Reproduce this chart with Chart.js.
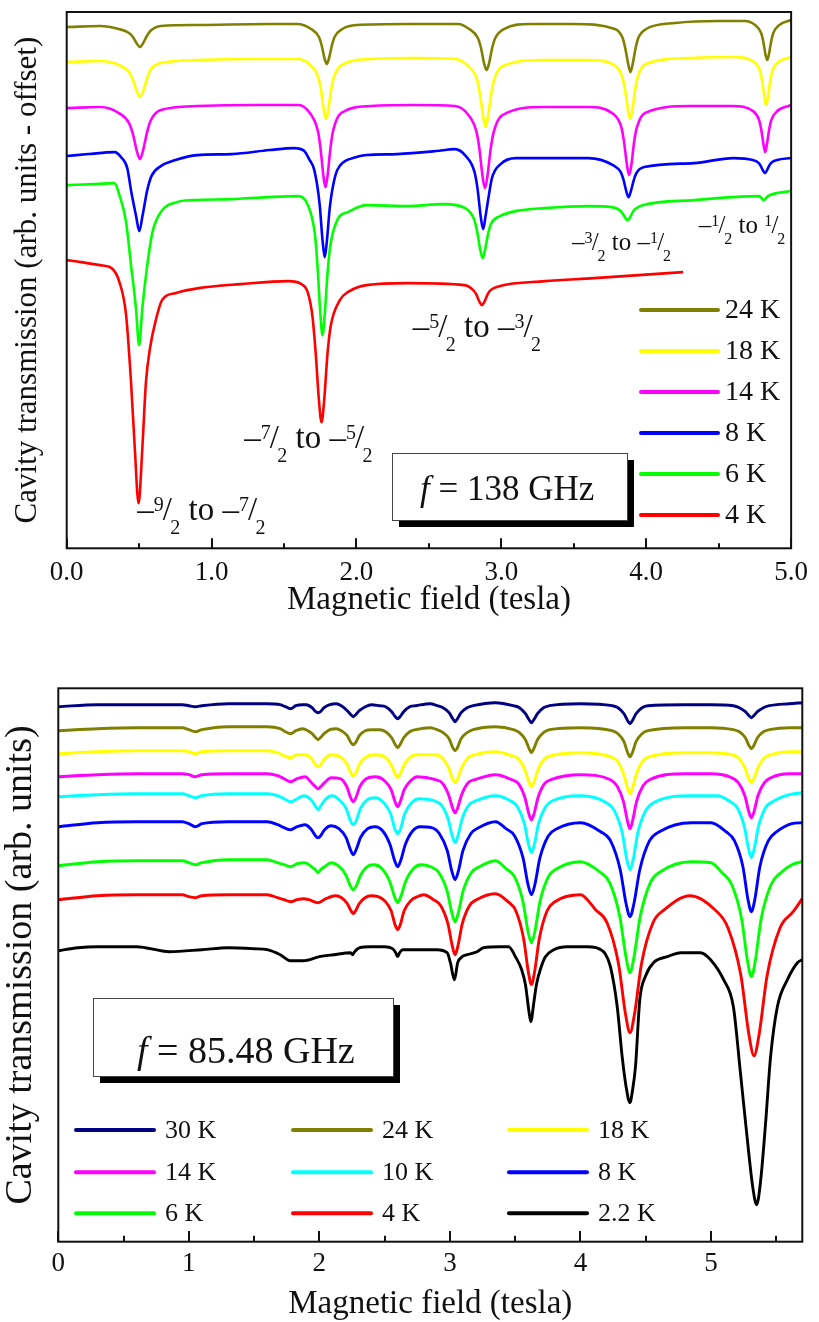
<!DOCTYPE html>
<html>
<head>
<meta charset="utf-8">
<script src="https://cdn.jsdelivr.net/npm/chart.js@4.4.0/dist/chart.umd.min.js"></script>
<style>
  html, body { margin: 0; padding: 0; background: #fff; }
  #wrap { position: relative; width: 819px; height: 1322px; }
  #c1 { position: absolute; left: 0; top: 0; }
  #c2 { position: absolute; left: 0; top: 650px; }
</style>
</head>
<body>
<div id="wrap">
  <canvas id="c1" width="819" height="640"></canvas>
  <canvas id="c2" width="819" height="672"></canvas>
</div>
<script>
// ---- top panel, f = 138 GHz : [field (T), transmission (arb., offset)] ----
var topLabels = ['24 K', '18 K', '14 K', '8 K', '6 K', '4 K'];
var topColors = ['#808000', '#ffff00', '#ff00ff', '#0000ff', '#00ff00', '#ff0000'];

var top24K = [[0,521],[0.23,522],[0.36,519],[0.43,515],[0.457,511],[0.486,504],[0.505,501],[0.524,504],[0.553,512],[0.577,517],[0.65,522],[0.91,523],[1.39,524],[1.59,524],[1.687,519],[1.741,511],[1.759,503],[1.781,489],[1.795,484],[1.809,489],[1.831,503],[1.849,511],[1.903,519],[2.0,523],[2.35,524],[2.7,524],[2.778,519],[2.838,510],[2.858,501],[2.882,484],[2.898,478],[2.914,484],[2.938,501],[2.958,510],[3.018,519],[3.2,524],[3.5,524],[3.783,519],[3.837,510],[3.855,500],[3.877,483],[3.891,476],[3.905,483],[3.927,500],[3.945,510],[3.999,519],[4.2,525],[4.5,527],[4.68,527],[4.751,523],[4.793,515],[4.807,507],[4.824,493],[4.835,488],[4.846,493],[4.863,507],[4.877,515],[4.919,523],[5.0,528]];
var top18K = [[0,486],[0.23,487],[0.36,483],[0.43,476],[0.457,468],[0.486,456],[0.506,451],[0.526,456],[0.555,470],[0.578,478],[0.65,485],[0.9,488],[1.3,489],[1.6,489],[1.682,483],[1.736,471],[1.754,459],[1.776,437],[1.79,429],[1.804,437],[1.826,459],[1.844,471],[1.898,483],[2.1,489],[2.4,490],[2.68,489],[2.771,482],[2.831,469],[2.851,455],[2.875,431],[2.891,421],[2.907,431],[2.931,455],[2.951,469],[3.011,482],[3.3,488],[3.6,488],[3.781,483],[3.835,471],[3.853,459],[3.875,437],[3.889,429],[3.903,437],[3.925,460],[3.943,472],[3.997,484],[4.3,490],[4.6,491],[4.744,486],[4.786,477],[4.8,467],[4.817,450],[4.828,443],[4.839,450],[4.856,467],[4.87,477],[4.912,486],[5.0,491]];
var top14K = [[0,440],[0.23,441],[0.36,435],[0.43,425],[0.457,414],[0.486,396],[0.506,389],[0.526,397],[0.555,416],[0.578,427],[0.65,438],[0.9,442],[1.3,443],[1.6,443],[1.678,435],[1.732,418],[1.75,402],[1.772,372],[1.786,361],[1.8,372],[1.822,402],[1.84,418],[1.894,435],[2.1,442],[2.4,443],[2.68,442],[2.767,434],[2.827,417],[2.847,401],[2.871,371],[2.887,360],[2.903,371],[2.927,400],[2.947,416],[3.007,433],[3.3,441],[3.6,441],[3.774,434],[3.828,421],[3.846,407],[3.868,382],[3.882,373],[3.896,382],[3.918,408],[3.936,421],[3.99,435],[4.3,442],[4.6,442],[4.737,437],[4.779,428],[4.793,419],[4.81,403],[4.821,396],[4.832,403],[4.849,419],[4.863,428],[4.905,437],[5.0,443]];
var top8K = [[0,392],[0.15,394],[0.33,396],[0.375,391],[0.418,380],[0.446,356],[0.479,332],[0.501,317],[0.523,332],[0.556,358],[0.585,372],[0.65,382],[0.75,388],[0.9,393],[1.14,394],[1.4,398],[1.57,400],[1.64,397],[1.673,389],[1.709,378],[1.745,345],[1.767,306],[1.781,291],[1.795,306],[1.817,342],[1.853,372],[1.889,383],[2.0,391],[2.07,393],[2.28,394],[2.55,397],[2.68,399],[2.755,392],[2.815,376],[2.835,360],[2.859,330],[2.875,319],[2.891,332],[2.915,354],[2.935,370],[2.995,384],[3.1,390],[3.6,390],[3.77,383],[3.824,376],[3.842,369],[3.864,356],[3.878,351],[3.892,356],[3.914,368],[3.932,375],[3.986,381],[4.33,385],[4.6,390],[4.735,388],[4.777,385],[4.791,382],[4.808,377],[4.819,375],[4.83,377],[4.847,382],[4.861,385],[4.903,388],[5.0,390]];
var top6K = [[0,363],[0.2,364],[0.33,365],[0.364,353],[0.41,326],[0.444,283],[0.478,240],[0.5,203],[0.522,240],[0.556,283],[0.592,316],[0.649,336],[0.76,346],[0.877,348],[1.14,349],[1.39,351],[1.59,352],[1.661,344],[1.713,314],[1.731,282],[1.752,232],[1.766,213],[1.78,232],[1.801,276],[1.819,302],[1.871,329],[1.94,336],[2.07,343],[2.35,342],[2.6,344],[2.751,340],[2.811,329],[2.831,318],[2.855,298],[2.871,290],[2.887,298],[2.911,316],[2.931,325],[2.991,332],[3.1,337],[3.3,340],[3.6,342],[3.763,341],[3.817,338],[3.835,335],[3.857,330],[3.871,328],[3.885,330],[3.907,336],[3.925,339],[3.979,343],[4.33,348],[4.6,351],[4.78,352],[4.81,348],[4.84,352],[5.0,357]];
var top4K = [[0,288],[0.1,286],[0.23,283],[0.31,280],[0.364,266],[0.41,233],[0.444,166],[0.47,100],[0.496,45],[0.522,100],[0.547,166],[0.575,200],[0.615,228],[0.658,248],[0.75,255],[0.911,260],[1.2,264],[1.53,267],[1.62,264],[1.663,256],[1.696,232],[1.717,198],[1.742,146],[1.759,126],[1.776,146],[1.801,196],[1.822,222],[1.885,248],[1.94,256],[2.07,263],[2.35,265],[2.746,263],[2.806,258],[2.826,254],[2.85,246],[2.866,243],[2.882,246],[2.906,254],[2.926,258],[2.986,262],[3.3,267],[3.64,270],[4.254,276]];
var topSeries = [top24K, top18K, top14K, top8K, top6K, top4K];

var topMajorTicks = [0, 1, 2, 3, 4, 5];
var topMinorTicks = [0.5, 1.5, 2.5, 3.5, 4.5];

// transition labels: -(from)/2 to -(to)/2
var transFrom = ['9', '7', '5', '3', '1'];
var transTo = ['7', '5', '3', '1', '1'];
var transToNegative = [true, true, true, true, false];

// ---- bottom panel, f = 85.48 GHz ----
var botLabels = ['30 K', '24 K', '18 K', '14 K', '10 K', '8 K', '6 K', '4 K', '2.2 K'];
var botColors = ['#000080', '#808000', '#ffff00', '#ff00ff', '#00ffff', '#0000ff', '#00ff00', '#ff0000', '#000000'];

var bot30K = [[0,535],[0.3,537],[0.6,537],[0.95,537],[1.0,536],[1.05,535],[1.1,536],[1.3,538],[1.6,538],[1.7,537],[1.74,535],[1.78,533],[1.82,536],[1.87,537],[1.9,537],[1.944,534],[1.972,530],[1.99,529],[2.008,530],[2.036,534],[2.08,537],[2.13,538],[2.168,536],[2.214,531],[2.242,527],[2.26,525],[2.278,527],[2.306,531],[2.352,535],[2.40,537],[2.462,536],[2.508,535],[2.554,530],[2.582,525],[2.60,523],[2.618,525],[2.646,530],[2.692,535],[2.738,536],[2.85,538],[2.902,536],[2.948,534],[2.994,529],[3.022,523],[3.04,520],[3.058,523],[3.086,529],[3.132,534],[3.178,536],[3.35,539],[3.487,536],[3.533,534],[3.579,528],[3.607,522],[3.625,519],[3.643,522],[3.671,528],[3.717,534],[3.763,536],[4.0,538],[4.242,536],[4.288,534],[4.334,528],[4.362,521],[4.38,518],[4.398,521],[4.426,528],[4.472,534],[4.518,536],[4.8,537],[5.0,537],[5.172,536],[5.218,534],[5.264,530],[5.292,526],[5.31,524],[5.328,526],[5.356,530],[5.402,534],[5.448,536],[5.6,538],[5.70,539]];
var bot24K = [[0,511],[0.3,513],[0.6,514],[0.95,514],[1.0,512],[1.05,510],[1.1,512],[1.3,515],[1.6,515],[1.7,513],[1.74,510],[1.78,508],[1.82,511],[1.87,513],[1.898,512],[1.944,508],[1.972,504],[1.99,502],[2.008,504],[2.036,508],[2.08,512],[2.13,513],[2.168,511],[2.214,506],[2.242,499],[2.26,497],[2.278,499],[2.306,506],[2.352,511],[2.398,512],[2.462,512],[2.508,510],[2.554,504],[2.582,497],[2.60,494],[2.618,497],[2.646,504],[2.692,510],[2.738,512],[2.85,514],[2.902,512],[2.948,509],[2.994,503],[3.022,494],[3.04,491],[3.058,494],[3.086,503],[3.132,509],[3.178,512],[3.35,515],[3.487,512],[3.533,509],[3.579,502],[3.607,493],[3.625,489],[3.643,493],[3.671,502],[3.717,509],[3.763,512],[4.0,514],[4.242,511],[4.288,508],[4.334,500],[4.362,489],[4.38,485],[4.398,489],[4.426,500],[4.472,508],[4.518,511],[4.8,514],[5.0,514],[5.172,512],[5.218,510],[5.264,504],[5.292,496],[5.31,493],[5.328,496],[5.356,504],[5.402,510],[5.448,512],[5.6,514],[5.70,514]];
var bot18K = [[0,488],[0.3,490],[0.6,491],[0.95,491],[1.0,490],[1.05,488],[1.1,490],[1.3,491],[1.6,491],[1.68,489],[1.73,486],[1.78,484],[1.83,487],[1.89,487],[1.94,483],[1.97,477],[1.99,475],[2.01,477],[2.04,483],[2.09,487],[2.16,485],[2.21,478],[2.24,469],[2.26,466],[2.28,469],[2.31,478],[2.36,485],[2.43,487],[2.50,485],[2.55,477],[2.58,468],[2.60,464],[2.62,468],[2.65,477],[2.70,485],[2.75,487],[2.89,487],[2.94,484],[2.99,474],[3.02,463],[3.04,459],[3.06,463],[3.09,474],[3.14,484],[3.19,487],[3.35,490],[3.475,486],[3.525,483],[3.575,472],[3.605,460],[3.625,455],[3.645,460],[3.675,472],[3.725,483],[3.775,486],[4.0,489],[4.23,485],[4.28,481],[4.33,468],[4.36,454],[4.38,448],[4.40,454],[4.43,468],[4.48,481],[4.53,485],[4.8,489],[5.0,489],[5.16,487],[5.21,484],[5.26,474],[5.29,463],[5.31,459],[5.33,463],[5.36,474],[5.41,484],[5.46,487],[5.6,490],[5.70,490]];
var bot14K = [[0,465],[0.3,467],[0.6,468],[0.95,468],[1.0,467],[1.05,465],[1.1,467],[1.3,468],[1.6,468],[1.68,466],[1.73,463],[1.78,460],[1.83,463],[1.89,465],[1.94,459],[1.97,455],[1.99,453],[2.01,455],[2.04,459],[2.09,464],[2.16,463],[2.21,455],[2.24,444],[2.26,440],[2.28,444],[2.31,455],[2.36,463],[2.43,465],[2.50,461],[2.55,452],[2.58,440],[2.60,435],[2.62,440],[2.65,452],[2.70,461],[2.75,465],[2.89,462],[2.94,459],[2.99,447],[3.02,434],[3.04,429],[3.06,434],[3.09,447],[3.14,459],[3.19,462],[3.35,467],[3.475,462],[3.525,458],[3.575,444],[3.605,428],[3.625,422],[3.645,428],[3.675,444],[3.725,458],[3.775,462],[4.0,467],[4.23,462],[4.28,456],[4.33,440],[4.36,421],[4.38,413],[4.40,421],[4.43,440],[4.48,456],[4.53,462],[4.8,468],[5.0,468],[5.16,464],[5.21,459],[5.26,446],[5.29,430],[5.31,424],[5.33,430],[5.36,446],[5.41,459],[5.46,464],[5.6,468],[5.70,468]];
var bot10K = [[0,445],[0.3,447],[0.6,448],[0.95,448],[1.0,446],[1.05,444],[1.1,446],[1.3,448],[1.6,448],[1.68,446],[1.73,443],[1.78,440],[1.83,443],[1.882,446],[1.936,442],[1.968,436],[1.99,432],[2.012,436],[2.044,442],[2.098,446],[2.152,442],[2.206,433],[2.238,421],[2.26,417],[2.282,421],[2.314,433],[2.368,442],[2.43,444],[2.492,439],[2.546,428],[2.578,413],[2.60,408],[2.622,413],[2.654,428],[2.708,439],[2.762,443],[2.878,441],[2.932,437],[2.986,423],[3.018,406],[3.04,399],[3.062,406],[3.094,423],[3.148,437],[3.202,441],[3.35,446],[3.463,441],[3.517,435],[3.571,418],[3.603,397],[3.625,389],[3.647,397],[3.679,418],[3.733,435],[3.787,441],[4.0,446],[4.20,439],[4.26,431],[4.32,409],[4.356,382],[4.38,372],[4.404,382],[4.44,409],[4.50,431],[4.56,439],[4.85,446],[5.05,446],[5.148,440],[5.202,434],[5.256,415],[5.288,393],[5.31,384],[5.332,393],[5.364,415],[5.418,434],[5.472,440],[5.6,447],[5.70,449]];
var bot8K = [[0,415],[0.3,419],[0.6,420],[0.95,420],[1.0,418],[1.05,415],[1.1,418],[1.3,420],[1.6,420],[1.68,417],[1.73,414],[1.78,412],[1.83,415],[1.89,417],[1.94,412],[1.97,406],[1.99,404],[2.01,406],[2.04,412],[2.09,416],[2.15,413],[2.205,404],[2.238,392],[2.26,387],[2.282,392],[2.315,404],[2.37,413],[2.426,415],[2.484,411],[2.542,397],[2.577,381],[2.60,375],[2.623,381],[2.658,397],[2.716,411],[2.774,415],[2.86,414],[2.92,408],[2.98,391],[3.016,370],[3.04,362],[3.064,370],[3.10,391],[3.16,408],[3.22,414],[3.35,420],[3.43,413],[3.495,406],[3.56,384],[3.599,357],[3.625,347],[3.651,357],[3.69,384],[3.755,406],[3.82,413],[4.0,419],[4.155,410],[4.23,401],[4.305,372],[4.35,338],[4.38,325],[4.41,338],[4.455,372],[4.53,401],[4.605,410],[4.85,419],[5.0,419],[5.115,410],[5.18,401],[5.245,375],[5.284,342],[5.31,330],[5.336,342],[5.375,375],[5.44,401],[5.505,410],[5.62,418],[5.70,419]];
var bot6K = [[0,376],[0.3,380],[0.6,381],[0.95,381],[1.0,379],[1.05,377],[1.1,379],[1.3,382],[1.6,382],[1.68,379],[1.73,377],[1.78,375],[1.83,378],[1.89,379],[1.94,375],[1.97,372],[1.99,369],[2.01,372],[2.04,375],[2.09,379],[2.144,376],[2.202,367],[2.237,356],[2.26,352],[2.283,356],[2.318,367],[2.376,376],[2.42,377],[2.48,373],[2.54,360],[2.576,345],[2.60,339],[2.624,345],[2.66,360],[2.72,373],[2.78,377],[2.854,375],[2.916,369],[2.978,351],[3.015,329],[3.04,320],[3.065,329],[3.102,351],[3.164,369],[3.226,375],[3.35,381],[3.43,373],[3.495,365],[3.56,340],[3.599,310],[3.625,299],[3.651,310],[3.69,340],[3.755,365],[3.82,373],[4.0,380],[4.146,370],[4.224,359],[4.302,325],[4.349,285],[4.38,269],[4.411,285],[4.458,325],[4.536,359],[4.614,370],[4.85,380],[5.0,379],[5.085,369],[5.16,357],[5.235,323],[5.28,281],[5.31,265],[5.34,281],[5.385,323],[5.46,357],[5.535,369],[5.62,377],[5.70,380]];
var bot4K = [[0,342],[0.3,346],[0.6,347],[0.95,347],[1.0,345],[1.05,344],[1.1,346],[1.3,347],[1.6,347],[1.68,344],[1.73,342],[1.78,340],[1.83,342],[1.88,343],[1.92,342],[1.99,339],[2.05,343],[2.125,346],[2.17,344],[2.215,338],[2.242,331],[2.26,328],[2.278,331],[2.305,338],[2.35,344],[2.395,346],[2.45,345],[2.50,341],[2.55,331],[2.58,317],[2.60,312],[2.62,317],[2.65,331],[2.70,341],[2.75,345],[2.80,347],[2.875,342],[2.93,336],[2.985,318],[3.018,296],[3.04,287],[3.062,296],[3.095,318],[3.15,336],[3.205,342],[3.35,348],[3.445,340],[3.505,331],[3.565,303],[3.601,270],[3.625,257],[3.649,270],[3.685,303],[3.745,331],[3.805,340],[4.0,347],[4.116,332],[4.204,319],[4.292,278],[4.345,228],[4.38,209],[4.415,228],[4.468,278],[4.556,319],[4.644,332],[4.84,346],[5.03,332],[5.13,314],[5.23,266],[5.29,208],[5.33,186],[5.37,208],[5.43,266],[5.53,314],[5.63,330],[5.70,343]];
var bot2K = [[0,291],[0.15,294],[0.3,295],[0.6,295],[0.85,290],[1.1,292],[1.3,294],[1.5,293],[1.6,292],[1.7,287],[1.777,281],[1.877,281],[2.0,285],[2.11,287],[2.24,289],[2.255,287],[2.27,290],[2.31,294],[2.39,295],[2.50,295],[2.56,293],[2.585,289],[2.60,285],[2.615,289],[2.64,292],[2.75,292],[2.90,292],[2.979,289],[3.004,279],[3.035,262],[3.06,279],[3.094,285],[3.132,287],[3.209,290],[3.257,294],[3.387,295],[3.45,295],[3.502,285],[3.55,272],[3.579,257],[3.604,232],[3.62,220],[3.643,239],[3.663,257],[3.70,275],[3.732,285],[3.796,292],[3.899,295],[4.05,295],[4.12,294],[4.19,288],[4.23,275],[4.282,235],[4.32,185],[4.35,155],[4.379,139],[4.40,152],[4.422,175],[4.455,242],[4.50,266],[4.56,279],[4.665,285],[4.77,289],[4.92,289],[4.997,282],[5.097,262],[5.172,235],[5.226,169],[5.279,102],[5.32,55],[5.35,37],[5.38,60],[5.419,119],[5.457,185],[5.509,235],[5.586,262],[5.663,279],[5.70,282]];
var botSeries = [bot30K, bot24K, bot18K, bot14K, bot10K, bot8K, bot6K, bot4K, bot2K];

var botMajorTicks = [0, 1, 2, 3, 4, 5];
var botMinorTicks = [0.5, 1.5, 2.5, 3.5, 4.5, 5.5];

var FONT = '"Liberation Serif", "Times New Roman", serif';
var INK = '#111';

function toPoints(arr) {
  return arr.map(function (p) { return { x: p[0], y: p[1] }; });
}

function makeDatasets(labels, colors, series, width) {
  return labels.map(function (lab, i) {
    return {
      label: lab,
      data: toPoints(series[i]),
      borderColor: colors[i],
      backgroundColor: colors[i],
      borderWidth: width,
      pointRadius: 0,
      fill: false,
      cubicInterpolationMode: 'monotone'
    };
  });
}

function drawShadowBox(ctx, b) {
  ctx.fillStyle = '#000';
  ctx.fillRect(b.x + b.shadow, b.y + b.shadow, b.w, b.h);
  ctx.fillStyle = '#fff';
  ctx.fillRect(b.x, b.y, b.w, b.h);
  ctx.strokeStyle = '#444';
  ctx.lineWidth = 1;
  ctx.strokeRect(b.x + 0.5, b.y + 0.5, b.w, b.h);
  ctx.fillStyle = INK;
  ctx.textBaseline = 'alphabetic';
  ctx.textAlign = 'left';
  ctx.font = 'italic ' + b.size + 'px ' + FONT;
  ctx.fillText('f', b.tx, b.ty);
  var w = ctx.measureText('f').width;
  ctx.font = b.size + 'px ' + FONT;
  ctx.fillText(' = ' + b.text, b.tx + w, b.ty);
}

function drawTransition(ctx, x, y, from, to, neg, size) {
  var big = size + 'px ' + FONT;
  var small = Math.round(size * 0.62) + 'px ' + FONT;
  function put(txt, font, dy) {
    ctx.font = font;
    ctx.fillText(txt, x, y + dy);
    x += ctx.measureText(txt).width;
  }
  function frac(num) {
    put(num, small, -size * 0.28);
    x -= size * 0.03;
    put('/', big, 0);
    x -= size * 0.05;
    put('2', small, size * 0.42);
  }
  put('\u2013', big, 0);
  frac(from);
  put(' to ', big, 0);
  if (neg) put('\u2013', big, 0);
  frac(to);
}

function decorPlugin(cfg) {
  return {
    id: 'decor',
    afterDraw: function (chart) {
      var ctx = chart.ctx, a = chart.chartArea;
      var xs = chart.scales.x, ys = chart.scales.y;
      ctx.save();
      // inward tick marks on the field axis
      ctx.strokeStyle = INK;
      ctx.lineWidth = 2;
      ctx.beginPath();
      cfg.major.forEach(function (v) {
        var px = Math.round(xs.getPixelForValue(v));
        ctx.moveTo(px, a.bottom); ctx.lineTo(px, a.bottom - cfg.majorLen);
      });
      cfg.minor.forEach(function (v) {
        var px = Math.round(xs.getPixelForValue(v));
        ctx.moveTo(px, a.bottom); ctx.lineTo(px, a.bottom - cfg.minorLen);
      });
      ctx.stroke();
      // frame
      ctx.strokeRect(a.left, a.top, a.right - a.left, a.bottom - a.top);

      // legend
      ctx.textBaseline = 'middle';
      ctx.textAlign = 'left';
      ctx.font = cfg.legend.size + 'px ' + FONT;
      chart.data.datasets.forEach(function (ds, i) {
        var pos = cfg.legend.place(i);
        ctx.strokeStyle = ds.borderColor;
        ctx.lineWidth = 4;
        ctx.lineCap = 'round';
        ctx.beginPath();
        ctx.moveTo(pos.x, pos.y);
        ctx.lineTo(pos.x + cfg.legend.lineLen, pos.y);
        ctx.stroke();
        ctx.fillStyle = INK;
        ctx.fillText(ds.label, pos.x + cfg.legend.lineLen + cfg.legend.gap, pos.y + 1);
      });
      ctx.lineCap = 'butt';

      // frequency box
      drawShadowBox(ctx, cfg.box);

      // transition labels
      if (cfg.trans) {
        ctx.fillStyle = INK;
        ctx.textBaseline = 'alphabetic';
        ctx.textAlign = 'left';
        cfg.trans.forEach(function (t, i) {
          drawTransition(ctx, xs.getPixelForValue(t.x), ys.getPixelForValue(t.y),
            transFrom[i], transTo[i], transToNegative[i], t.size);
        });
      }
      ctx.restore();
    }
  };
}

function axisOptions(o) {
  return {
    x: {
      type: 'linear', min: 0, max: o.xMax,
      afterFit: function (s) { s.height = o.xHeight; },
      grid: { display: false, drawTicks: false },
      border: { display: false },
      ticks: {
        stepSize: 1, includeBounds: false, autoSkip: false, maxRotation: 0,
        padding: o.tickPad, color: INK,
        font: { family: FONT, size: 27, lineHeight: 1 },
        callback: o.tickFmt
      },
      title: {
        display: true, text: 'Magnetic field (tesla)', color: INK,
        font: { family: FONT, size: 33, lineHeight: 1 },
        padding: { top: 0, bottom: o.xTitlePad }
      }
    },
    y: {
      type: 'linear', min: 0, max: o.yMax,
      afterFit: function (s) { s.width = o.yWidth; },
      grid: { display: false, drawTicks: false },
      border: { display: false },
      ticks: { display: false },
      title: {
        display: true, text: o.yTitle, color: INK,
        font: { family: FONT, size: o.yTitleSize, lineHeight: 1 },
        padding: { top: o.yTitlePad, bottom: 0 }
      }
    }
  };
}

// ---------- top chart ----------
new Chart(document.getElementById('c1'), {
  type: 'line',
  data: { datasets: makeDatasets(topLabels, topColors, topSeries, 2.6) },
  options: {
    responsive: false, animation: false, events: [],
    layout: { padding: { left: 0, top: 12, right: 20.7, bottom: 0 } },
    plugins: { legend: { display: false }, tooltip: { enabled: false } },
    scales: axisOptions({
      xMax: 5, xHeight: 91.7, tickPad: 11, xTitlePad: 23.5,
      tickFmt: function (v) { return Number(v).toFixed(1); },
      yMax: 536, yWidth: 66.7, yTitle: 'Cavity transmission (arb. units - offset)',
      yTitleSize: 31, yTitlePad: 12
    })
  },
  plugins: [decorPlugin({
    major: topMajorTicks, minor: topMinorTicks, majorLen: 10, minorLen: 5,
    legend: {
      size: 28, lineLen: 77, gap: 7,
      place: function (i) { return { x: 641, y: 310 + i * 41 }; }
    },
    box: { x: 392, y: 453, w: 235, h: 67, shadow: 7, size: 35, tx: 420, ty: 500, text: '138 GHz' },
    trans: [
      { x: 0.487, y: 28, size: 33 },
      { x: 1.226, y: 100, size: 33 },
      { x: 2.388, y: 211, size: 33 },
      { x: 3.488, y: 298, size: 25 },
      { x: 4.363, y: 315, size: 25 }
    ]
  })]
});

// ---------- bottom chart ----------
new Chart(document.getElementById('c2'), {
  type: 'line',
  data: { datasets: makeDatasets(botLabels, botColors, botSeries, 2.9) },
  options: {
    responsive: false, animation: false, events: [],
    layout: { padding: { left: 0, top: 38.3, right: 16.7, bottom: 0 } },
    plugins: { legend: { display: false }, tooltip: { enabled: false } },
    scales: axisOptions({
      xMax: 5.7, xHeight: 80.3, tickPad: 9, xTitlePad: 1.5,
      tickFmt: function (v) { return String(v); },
      yMax: 553.4, yWidth: 58.3, yTitle: 'Cavity transmission (arb. units)',
      yTitleSize: 38, yTitlePad: 2
    })
  },
  plugins: [decorPlugin({
    major: botMajorTicks, minor: botMinorTicks, majorLen: 10.7, minorLen: 6,
    legend: {
      size: 26, lineLen: 78, gap: 11,
      place: function (i) {
        var cols = [76, 293, 509], rows = [480, 522.3, 563.3];
        return { x: cols[i % 3], y: rows[Math.floor(i / 3)] };
      }
    },
    box: { x: 93, y: 348, w: 300, h: 78, shadow: 7, size: 38, tx: 137, ty: 413, text: '85.48 GHz' },
    trans: null
  })]
});
</script>
</body>
</html>
